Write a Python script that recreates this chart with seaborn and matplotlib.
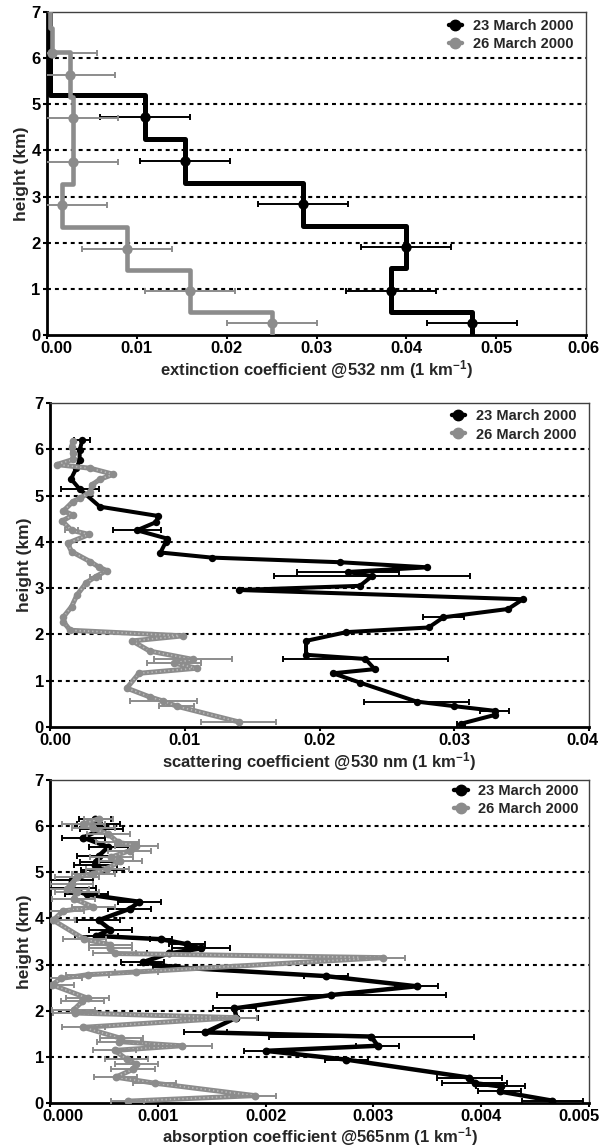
import numpy as np
import pandas as pd
import matplotlib
matplotlib.use('Agg')
import matplotlib.pyplot as plt
import matplotlib.transforms as mtransforms
from matplotlib.lines import Line2D
from matplotlib.legend_handler import HandlerLine2D
import seaborn as sns

sns.set_style('ticks')
plt.rcParams['font.family'] = ['Liberation Sans', 'DejaVu Sans']
plt.rcParams['font.weight'] = 'bold'
plt.rcParams['axes.labelweight'] = 'bold'
plt.rcParams['mathtext.fontset'] = 'custom'
plt.rcParams['mathtext.rm'] = 'Liberation Sans:bold'
plt.rcParams['mathtext.bf'] = 'Liberation Sans:bold'
plt.rcParams['mathtext.default'] = 'rm'

# ---------------- data ----------------
labels = ['23 March 2000', '26 March 2000']
heights_ticks = [0, 1, 2, 3, 4, 5, 6, 7]

# Panel 1: extinction (layer profiles)
ext_edges_23 = [0.0, 0.5, 1.45, 2.37, 3.3, 4.25, 5.2, 7.0]
ext_vals_23 = [0.0473, 0.0383, 0.0400, 0.0285, 0.0154, 0.0109, 0.0003]
ext_pt_h_23 = [0.27, 0.96, 1.90, 2.83, 3.77, 4.72]
ext_pt_x_23 = [0.0473, 0.0383, 0.0400, 0.0285, 0.0154, 0.0109]
ext_err_23 = [0.005, 0.005, 0.005, 0.005, 0.005, 0.005]

ext_edges_26 = [0.0, 0.5, 1.41, 2.34, 3.28, 5.15, 6.13, 6.65, 7.0]
ext_vals_26 = [0.0250, 0.0159, 0.0089, 0.0017, 0.0029, 0.0026, 0.0006, 0.0003]
ext_pt_h_26 = [0.27, 0.96, 1.87, 2.81, 3.75, 4.70, 5.63, 6.12]
ext_pt_x_26 = [0.0250, 0.0159, 0.0089, 0.0017, 0.0029, 0.0029, 0.0026, 0.0006]
ext_err_26 = [0.005, 0.005, 0.005, 0.005, 0.005, 0.005, 0.005, 0.005]

# Panel 2: scattering
sca_h_23 = [6.20, 5.98, 5.76, 5.59, 5.36, 5.14, 4.76, 4.56, 4.43, 4.25, 4.07, 4.00,
            3.77, 3.66, 3.56, 3.45, 3.35, 3.26, 3.05, 2.96, 2.76, 2.55, 2.37, 2.15,
            2.05, 1.86, 1.56, 1.47, 1.25, 1.16, 0.96, 0.55, 0.45, 0.35, 0.26, 0.07]
sca_x_23 = [0.0024, 0.0022, 0.0022, 0.00195, 0.00156, 0.0022, 0.0037, 0.0080, 0.0079,
            0.00645, 0.0087, 0.0086, 0.0082, 0.0120, 0.0215, 0.0280, 0.0221, 0.0239,
            0.0230, 0.0140, 0.0351, 0.0340, 0.0292, 0.0281, 0.0220, 0.0190, 0.0190,
            0.0234, 0.0241, 0.0210, 0.0230, 0.0272, 0.0300, 0.0330, 0.0330, 0.0305]
sca_err_23 = [0.0006, np.nan, np.nan, np.nan, np.nan, 0.0014, np.nan, np.nan, np.nan,
              0.0018, np.nan, np.nan, np.nan, np.nan, np.nan, np.nan, 0.0038, 0.0073,
              np.nan, np.nan, np.nan, np.nan, 0.0015, np.nan, np.nan, np.nan, np.nan,
              0.0061, np.nan, np.nan, np.nan, 0.0039, np.nan, 0.0011, np.nan, 0.0003]

sca_h_26 = [6.17, 6.05, 5.92, 5.78, 5.67, 5.59, 5.46, 5.35, 5.23, 5.08, 4.94, 4.87,
            4.67, 4.58, 4.45, 4.25, 4.16, 3.97, 3.79, 3.57, 3.46, 3.38, 3.25, 3.12,
            2.85, 2.60, 2.38, 2.27, 2.09, 1.97, 1.86, 1.64, 1.46, 1.38, 1.27, 1.16,
            0.84, 0.65, 0.56, 0.45, 0.11]
sca_x_26 = [0.0017, 0.0016, 0.0017, 0.0017, 0.0005, 0.0030, 0.0047, 0.0037, 0.0031,
            0.0030, 0.0022, 0.0017, 0.0010, 0.0017, 0.0009, 0.0016, 0.0029, 0.0013,
            0.0016, 0.0030, 0.0036, 0.0042, 0.0034, 0.0027, 0.0020, 0.0016, 0.0010,
            0.0010, 0.0015, 0.0099, 0.0061, 0.0074, 0.0106, 0.0092, 0.0109, 0.0066,
            0.0057, 0.0074, 0.0084, 0.0094, 0.0140]
sca_err_26 = [np.nan] * 15 + [0.0005] + [np.nan] * 6 + [0.0004] + [np.nan] * 9 + \
             [0.0029, 0.0020] + [np.nan] * 4 + [0.0025, 0.0013, 0.0028]

# Panel 3: absorption
abs_h_23 = [6.16, 6.05, 5.94, 5.75, 5.55, 5.35, 5.22, 5.15, 5.06, 4.83, 4.65, 4.52,
            4.36, 4.21, 3.96, 3.76, 3.62, 3.55, 3.44, 3.35, 3.24, 3.05, 2.94, 2.75,
            2.53, 2.34, 2.05, 1.85, 1.53, 1.44, 1.24, 1.13, 0.94, 0.55, 0.43, 0.36,
            0.25, 0.05]
abs_x_23 = [0.00042, 0.00045, 0.00048, 0.00031, 0.00054, 0.00045, 0.00043, 0.00042,
            0.00049, 0.00020, 0.00018, 0.00034, 0.00083, 0.00074, 0.00045, 0.00056,
            0.00043, 0.00103, 0.00127, 0.00140, 0.00110, 0.00086, 0.00116, 0.00256,
            0.00340, 0.00261, 0.00171, 0.00173, 0.00144, 0.00298, 0.00304, 0.00200,
            0.00275, 0.00389, 0.00394, 0.00418, 0.00417, 0.00466]
abs_err_23 = [0.00015, 0.0002, 0.0002, 0.0002, 0.00018, 0.0002, 0.00015, 0.0002,
              0.0002, 0.0002, 0.00025, 0.0002, 0.0002, 0.0002, 0.0002, 0.0002,
              0.0002, 0.0001, 0.00017, 0.00027, 0.0002, 0.0002, 0.0002, 0.0002,
              0.0002, 0.00106, 0.0002, 0.0002, 0.0002, 0.00095, 0.0002, 0.0002,
              0.0002, 0.0003, 0.0003, 0.00023, 0.0002, 0.00028]

abs_h_26 = [6.16, 6.05, 5.95, 5.83, 5.65, 5.58, 5.47, 5.33, 5.24, 5.08, 4.97, 4.90,
            4.75, 4.64, 4.57, 4.43, 4.25, 4.16, 3.96, 3.55, 3.43, 3.35, 3.24, 3.15,
            2.84, 2.78, 2.70, 2.56, 2.27, 2.20, 2.02, 1.95, 1.85, 1.64, 1.40, 1.33,
            1.24, 1.14, 0.95, 0.84, 0.73, 0.56, 0.43, 0.16, 0.04]
abs_x_26 = [0.00045, 0.00031, 0.00040, 0.00054, 0.00063, 0.00080, 0.00074, 0.00057,
            0.00065, 0.00053, 0.00040, 0.00025, 0.00020, 0.00016, 0.00025, 0.00022,
            0.00040, 0.00012, 0.00003, 0.00032, 0.00056, 0.00056, 0.00060, 0.00309,
            0.00080, 0.00035, 0.00010, 0.00002, 0.00035, 0.00030, 0.00022, 0.00023,
            0.00172, 0.00031, 0.00066, 0.00064, 0.00122, 0.00060, 0.00071, 0.00080,
            0.00077, 0.00061, 0.00097, 0.00190, 0.00072]
abs_err_26 = [0.00013, 0.0002, 0.0002, 0.0002, 0.0002, 0.0002, 0.0002, 0.0002,
              0.0002, 0.0002, 0.0002, 0.0002, 0.0002, 0.0002, 0.0002, 0.0002,
              0.0002, 0.0002, 0.0002, 0.0002, 0.0002, 0.0002, 0.0002, 0.0002,
              0.0002, 0.0002, 0.0002, 0.0002, 0.0002, 0.0002, 0.0002, 0.0002,
              0.0002, 0.0002, 0.0002, 0.0002, 0.00028, 0.0002, 0.0002, 0.0002,
              0.0002, 0.0002, 0.0002, 0.0002, 0.00015]

# ---------------- style ----------------
BLACK = '#000000'
GREY = '#8c8c8c'
GREY_LIGHT = '#b8b8b8'
FS = 12
PX = 1 / 100.0

fig = plt.figure(figsize=(6.01, 11.48), dpi=100)
W, H = 601.0, 1148.0


def add_axes(l, r, t, b):
    return fig.add_axes([l / W, 1 - b / H, (r - l) / W, (b - t) / H])


ax1 = add_axes(47, 586, 12, 335)
ax2 = add_axes(50, 589, 403, 727)
ax3 = add_axes(50, 589, 780, 1103)


class HandlerRightMarker(HandlerLine2D):
    def get_xdata(self, legend, xdescent, ydescent, width, height, fontsize):
        xdata = np.array([-xdescent, -xdescent + width])
        return xdata, np.array([-xdescent + width])


def step_frame(edges, vals):
    xs, hs = [], []
    for i, v in enumerate(vals):
        xs += [v, v]
        hs += [edges[i], edges[i + 1]]
    return pd.DataFrame({'x': xs, 'h': hs})


def errbars(ax, x, h, err, color, z):
    d = pd.DataFrame({'x': x, 'h': h, 'e': err}).dropna()
    ax.errorbar(d['x'], d['h'], xerr=d['e'], fmt='none', ecolor=color,
                elinewidth=1.4, capsize=2.2, capthick=1.4, zorder=z)


def textured(ax, x, h, lw, z):
    df = pd.DataFrame({'x': x, 'h': h})
    sns.lineplot(data=df, x='x', y='h', sort=False, estimator=None, color=GREY,
                 linewidth=lw, ax=ax, zorder=z)
    ax.plot(df['x'], df['h'], color=GREY_LIGHT, lw=lw * 0.35,
            dashes=(0.8, 1.6), zorder=z + 0.01)


def style(ax, xmax, xticks, xfmt, xlabel, shift_first, shift_last, leg_anchor, lpad):
    ax.set_xlim(0, xmax)
    ax.set_ylim(0, 7)
    ax.set_yticks(heights_ticks)
    ax.set_yticklabels([str(v) for v in heights_ticks])
    ax.set_xticks(xticks)
    ax.set_xticklabels([xfmt.format(v) for v in xticks])
    for y in heights_ticks[1:-1]:
        ax.axhline(y, color='black', lw=1.5, ls=(0, (1.9, 1.9)), zorder=0.5)
    for s in ['left', 'bottom']:
        ax.spines[s].set_linewidth(2.0)
        ax.spines[s].set_color('black')
    for s in ['top', 'right']:
        ax.spines[s].set_linewidth(1.0)
        ax.spines[s].set_color('#404040')
        ax.spines[s].set_visible(True)
    ax.tick_params(axis='both', direction='out', length=3, width=1.5,
                   labelsize=FS, pad=1.5, colors='black')
    ax.tick_params(axis='x', pad=1.5)
    ax.set_xlabel(xlabel, fontsize=FS, fontweight='bold', labelpad=lpad)
    ax.set_ylabel('height (km)', fontsize=FS + 0.5, fontweight='bold', labelpad=2)
    ax.grid(False)
    ticks = ax.xaxis.get_major_ticks()
    for idx, dx in ((0, shift_first), (-1, shift_last)):
        lab = ticks[idx].label1
        lab.set_transform(lab.get_transform() +
                          mtransforms.ScaledTranslation(dx * PX, 0, fig.dpi_scale_trans))
    handles = [Line2D([], [], color=BLACK, lw=3.2, marker='o', ms=7.5),
               Line2D([], [], color=GREY, lw=3.2, marker='o', ms=7.5)]
    ax.legend(handles, labels, loc='upper right', bbox_to_anchor=leg_anchor,
              frameon=False, borderaxespad=0, borderpad=0, handlelength=0.95,
              handletextpad=0.7, labelspacing=0.3,
              prop={'size': 10.5, 'weight': 'bold'},
              handler_map={Line2D: HandlerRightMarker()})


# ---- Panel 1 ----
sns.lineplot(data=step_frame(ext_edges_23, ext_vals_23), x='x', y='h', sort=False,
             estimator=None, color=BLACK, linewidth=3.6, ax=ax1, zorder=2)
errbars(ax1, ext_pt_x_23, ext_pt_h_23, ext_err_23, BLACK, 2.5)
sns.scatterplot(x=ext_pt_x_23, y=ext_pt_h_23, s=55, color=BLACK, linewidth=0,
                ax=ax1, zorder=3)
sns.lineplot(data=step_frame(ext_edges_26, ext_vals_26), x='x', y='h', sort=False,
             estimator=None, color=GREY, linewidth=3.3, ax=ax1, zorder=4)
errbars(ax1, ext_pt_x_26, ext_pt_h_26, ext_err_26, GREY, 4.5)
sns.scatterplot(x=ext_pt_x_26, y=ext_pt_h_26, s=55, color=GREY, linewidth=0,
                ax=ax1, zorder=5)
style(ax1, 0.06, [0.0, 0.01, 0.02, 0.03, 0.04, 0.05, 0.06], '{:.2f}',
      r'extinction coefficient @532 nm (1 km$^{-1}$)', 9, -3, (0.976, 0.978), 1)

# ---- Panel 2 ----
df23 = pd.DataFrame({'x': sca_x_23, 'h': sca_h_23})
sns.lineplot(data=df23, x='x', y='h', sort=False, estimator=None, color=BLACK,
             linewidth=2.9, ax=ax2, zorder=2)
errbars(ax2, sca_x_23, sca_h_23, sca_err_23, BLACK, 2.5)
sns.scatterplot(data=df23, x='x', y='h', s=28, color=BLACK, linewidth=0, ax=ax2, zorder=3)
textured(ax2, sca_x_26, sca_h_26, 3.6, 4)
errbars(ax2, sca_x_26, sca_h_26, sca_err_26, GREY, 4.5)
sns.scatterplot(x=sca_x_26, y=sca_h_26, s=30, color=GREY, linewidth=0, ax=ax2, zorder=5)
style(ax2, 0.04, [0.0, 0.01, 0.02, 0.03, 0.04], '{:.2f}',
      r'scattering coefficient @530 nm (1 km$^{-1}$)', 5, -7, (0.976, 0.981), 1)

# ---- Panel 3 ----
df23b = pd.DataFrame({'x': abs_x_23, 'h': abs_h_23})
sns.lineplot(data=df23b, x='x', y='h', sort=False, estimator=None, color=BLACK,
             linewidth=3.2, ax=ax3, zorder=2)
errbars(ax3, abs_x_23, abs_h_23, abs_err_23, BLACK, 2.5)
sns.scatterplot(data=df23b, x='x', y='h', s=32, color=BLACK, linewidth=0, ax=ax3, zorder=3)
textured(ax3, abs_x_26, abs_h_26, 3.6, 4)
errbars(ax3, abs_x_26, abs_h_26, abs_err_26, GREY, 4.5)
sns.scatterplot(x=abs_x_26, y=abs_h_26, s=32, color=GREY, linewidth=0, ax=ax3, zorder=5)
style(ax3, 0.005, [0.0, 0.001, 0.002, 0.003, 0.004, 0.005], '{:.3f}',
      r'absorption coefficient @565nm (1 km$^{-1}$)', 13, -10, (0.981, 0.988), 0.5)

fig.savefig('out.png', dpi=100)
